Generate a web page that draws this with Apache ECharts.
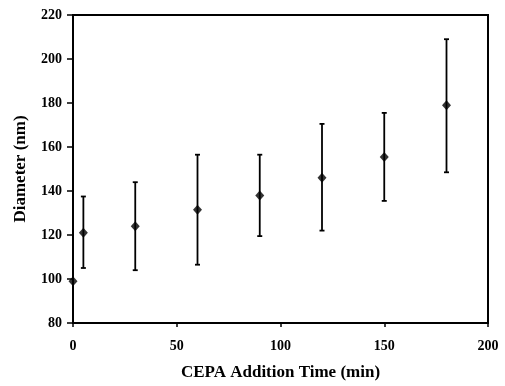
<!DOCTYPE html>
<html>
<head>
<meta charset="utf-8">
<script src="https://cdn.jsdelivr.net/npm/echarts@6/dist/echarts.min.js"></script>
<style>html,body{margin:0;padding:0;background:#fff;}#c{width:505px;height:386px;}</style>
</head>
<body>
<div id="c"></div>
<script>
var times = [0, 5, 30, 60, 90, 120, 150, 180];
var diameters = [99, 121, 124, 131.5, 138, 146, 155.5, 179];
var errUpper = [null, 137.5, 144, 156.5, 156.5, 170.5, 175.5, 209];
var errLower = [null, 105, 104, 106.5, 119.5, 122, 135.5, 148.5];
var xTicks = [0, 50, 100, 150, 200];
var yTicks = [80, 100, 120, 140, 160, 180, 200, 220];

var pts = times.map(function (t, i) { return [t, diameters[i]]; });
var errs = [];
times.forEach(function (t, i) {
  if (errUpper[i] != null) errs.push([t, errLower[i], errUpper[i]]);
});

var font = '"Liberation Serif", "Times New Roman", serif';
var chart = echarts.init(document.getElementById('c'));
chart.setOption({
  animation: false,
  grid: { left: 73, right: 17, top: 15, bottom: 62, show: true, borderColor: '#000', borderWidth: 2, backgroundColor: 'transparent' },
  xAxis: {
    type: 'value', min: 0, max: 200, interval: 50,
    name: 'CEPA Addition Time (min)', nameLocation: 'middle', nameGap: 41,
    nameTextStyle: { fontFamily: font, fontWeight: 'bold', fontSize: 17, color: '#000' },
    axisLine: { show: true, lineStyle: { color: '#000', width: 2 } },
    axisTick: { show: true, inside: false, length: 4, lineStyle: { color: '#000', width: 1.5 } },
    axisLabel: { margin: 16, fontFamily: font, fontWeight: 'bold', fontSize: 14, color: '#000' },
    splitLine: { show: false }
  },
  yAxis: {
    type: 'value', min: 80, max: 220, interval: 20,
    name: 'Diameter (nm)', nameLocation: 'middle', nameGap: 44, nameRotate: 90,
    nameTextStyle: { fontFamily: font, fontWeight: 'bold', fontSize: 17, color: '#000' },
    axisLine: { show: true, lineStyle: { color: '#000', width: 2 } },
    axisTick: { show: true, inside: false, length: 6, lineStyle: { color: '#000', width: 1.5 } },
    axisLabel: { margin: 11, fontFamily: font, fontWeight: 'bold', fontSize: 14, color: '#000' },
    splitLine: { show: false }
  },
  series: [
    {
      type: 'custom',
      data: errs,
      z: 2,
      renderItem: function (params, api) {
        var x = api.value(0);
        var lo = api.coord([x, api.value(1)]);
        var hi = api.coord([x, api.value(2)]);
        var hw = 2.5;
        var st = { stroke: '#000', lineWidth: 1.8 };
        return {
          type: 'group',
          children: [
            { type: 'line', shape: { x1: lo[0], y1: lo[1], x2: hi[0], y2: hi[1] }, style: st },
            { type: 'line', shape: { x1: lo[0] - hw, y1: lo[1], x2: lo[0] + hw, y2: lo[1] }, style: st },
            { type: 'line', shape: { x1: hi[0] - hw, y1: hi[1], x2: hi[0] + hw, y2: hi[1] }, style: st }
          ]
        };
      }
    },
    {
      type: 'scatter',
      data: pts,
      symbol: 'diamond',
      symbolSize: [9, 10],
      itemStyle: { color: '#000' },
      z: 3
    }
  ]
});
</script>
</body>
</html>
